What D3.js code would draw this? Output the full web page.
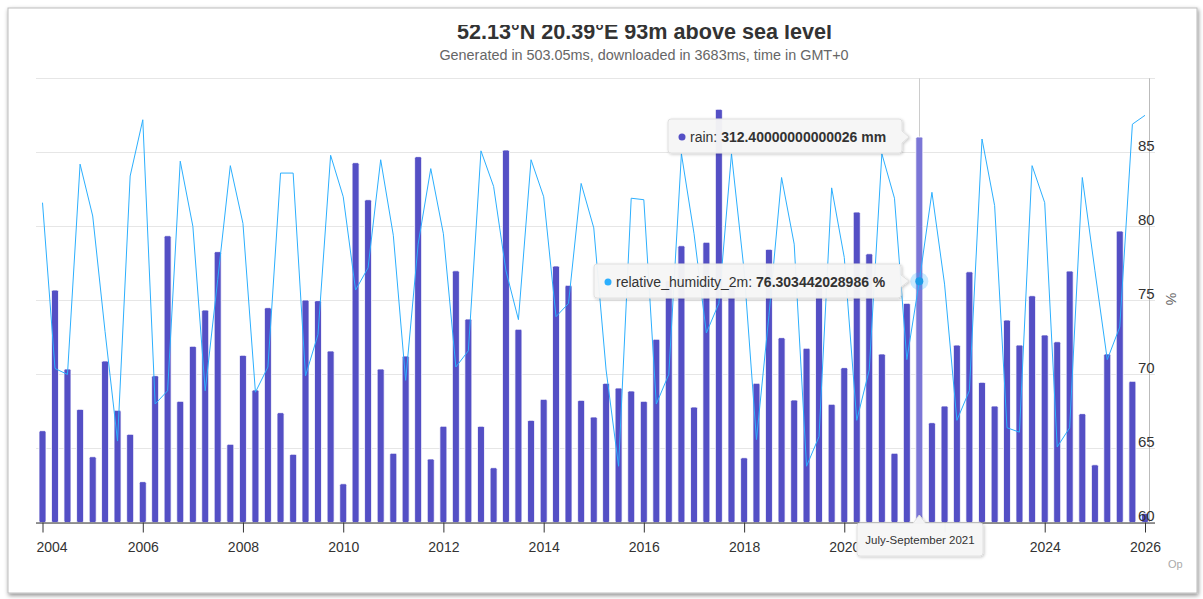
<!DOCTYPE html>
<html>
<head>
<meta charset="utf-8">
<script src="https://cdn.jsdelivr.net/npm/d3@7"></script>
<style>
  body { margin: 0; background: #fff; }
  svg { display: block; font-family: "Liberation Sans", Arial, Helvetica, sans-serif; }
</style>
</head>
<body>
<svg id="chart" width="1203" height="599"></svg>
<script>
/// data ///
// quarters start in 2004 Q1, one value per quarter
const firstYear = 2004;
const quarterNames = ["January-March", "April-June", "July-September", "October-December"];

// rain per quarter (mm)
const rain = [
  74.4, 188.4, 124.4, 91.7,     // 2004
  53.3, 130.9, 90.9, 71.5,      // 2005
  33.1, 119.0, 232.4, 98.2,     // 2006
  142.8, 172.2, 219.5, 63.4,    // 2007
  135.5, 107.4, 174.1, 89.0,    // 2008
  55.3, 180.3, 179.8, 139.0,    // 2009
  31.4, 291.6, 261.6, 124.4,    // 2010
  56.1, 134.9, 296.5, 51.5,     // 2011
  78.0, 204.0, 164.9, 78.0,     // 2012
  44.4, 301.9, 156.6, 82.8,     // 2013
  99.8, 207.9, 192.2, 99.0,     // 2014
  85.5, 112.8, 109.0, 106.6,    // 2015
  98.2, 148.5, 196.0, 224.3,    // 2016
  93.6, 227.1, 334.9, 192.5,    // 2017
  52.5, 112.8, 221.4, 149.8,    // 2018
  99.3, 141.2, 192.5, 95.8,     // 2019
  125.5, 251.6, 217.8, 136.6,   // 2020
  56.1, 177.6, 312.4, 80.9,     // 2021
  94.4, 143.8, 203.2, 113.6,    // 2022
  94.4, 164.1, 143.8, 183.8,    // 2023
  152.0, 146.5, 203.8, 88.2,    // 2024
  46.8, 136.6, 236.2, 114.4,    // 2025
  7.4                           // 2026
];

// relative humidity at 2m per quarter (%)
const humidity = [
  81.6, 70.4, 70.0, 84.2,
  80.7, 72.9, 65.5, 83.4,
  87.2, 68.0, 68.9, 84.4,
  80.0, 68.9, 76.4, 84.1,
  80.2, 68.8, 70.5, 83.6,
  83.6, 69.9, 72.7, 84.8,
  82.0, 75.7, 77.2, 84.5,
  79.4, 69.6, 78.8, 83.9,
  79.5, 70.5, 71.6, 85.1,
  82.7, 77.0, 73.7, 84.5,
  82.0, 73.9, 74.8, 82.9,
  79.9, 70.3, 63.8, 81.9,
  81.8, 68.0, 70.0, 84.9,
  79.5, 72.8, 74.8, 84.9,
  77.0, 65.6, 74.0, 83.3,
  78.8, 63.8, 65.8, 82.6,
  77.9, 66.9, 70.3, 84.9,
  81.9, 71.0, 76.3, 82.3,
  76.1, 66.9, 68.9, 85.9,
  81.4, 66.4, 66.1, 84.1,
  81.6, 65.1, 66.4, 83.3,
  77.0, 71.0, 73.2, 86.9,
  87.5
];

// axis ticks
const xTickYears = [2004, 2006, 2008, 2010, 2012, 2014, 2016, 2018, 2020, 2022, 2024, 2026];
const hiddenXLabels = [2022]; // covered by the x tooltip in the original
const humidityTicks = [60, 65, 70, 75, 80, 85];
const gridTicks = [60, 65, 70, 75, 80, 85, 90];

// hovered point (tooltip)
const hoverIndex = 70;
const rainTooltipValue = "312.40000000000026 mm";
const humidityTooltipValue = "76.303442028986 %";

// texts
const titleText = "52.13°N 20.39°E 93m above sea level";
const subtitleText = "Generated in 503.05ms, downloaded in 3683ms, time in GMT+0";

/// constants ///
const plot = { left: 36, right: 1149, top: 78.3, bottom: 522.5 };
const barColour = "#544fc5";
const barHoverColour = "#7b76d6";
const lineColour = "#2caffe";
const gridColour = "#e6e6e6";
const labelColour = "#333333";

const rows = rain.map((r, i) => ({
  date: new Date(Date.UTC(firstYear + Math.floor(i / 4), (i % 4) * 3, 1)),
  rain: r,
  humidity: humidity[i],
  quarter: quarterNames[i % 4] + " " + (firstYear + Math.floor(i / 4))
}));

const svg = d3.select("#chart");

/// frame ///
const defs = svg.append("defs");
const shadow = defs.append("filter").attr("id", "shadow")
  .attr("x", "-5%").attr("y", "-5%").attr("width", "110%").attr("height", "110%");
shadow.append("feDropShadow").attr("dx", 1).attr("dy", 2).attr("stdDeviation", 2)
  .attr("flood-color", "#000").attr("flood-opacity", 0.45);
const tipShadow = defs.append("filter").attr("id", "tipshadow")
  .attr("x", "-10%").attr("y", "-30%").attr("width", "120%").attr("height", "170%");
tipShadow.append("feDropShadow").attr("dx", 1).attr("dy", 1).attr("stdDeviation", 1.5)
  .attr("flood-color", "#000").attr("flood-opacity", 0.22);

svg.append("rect")
  .attr("x", 8).attr("y", 8).attr("width", 1189).attr("height", 585)
  .attr("fill", "#fff").attr("stroke", "#bdbdbd")
  .attr("filter", "url(#shadow)");

/// Scales ///
const x = d3.scaleUtc()
  .domain([new Date(Date.UTC(2004, 0, 1)), new Date(Date.UTC(2026, 0, 1))])
  .range([42.5, 1145]);
const yRain = d3.scaleLinear().domain([0, 360]).range([plot.bottom, plot.top]);
const yHum = d3.scaleLinear().domain([60, 90]).range([plot.bottom, plot.top]);

/// titles ///
// the top of the title is cut off in the original screenshot
defs.append("clipPath").attr("id", "titleclip")
  .append("rect").attr("x", 0).attr("y", 25).attr("width", 1203).attr("height", 30);
svg.append("text")
  .attr("x", 644.5).attr("y", 38.5)
  .attr("text-anchor", "middle")
  .attr("font-size", 21.6).attr("font-weight", "bold")
  .attr("fill", "#333")
  .attr("clip-path", "url(#titleclip)")
  .text(titleText);
svg.append("text")
  .attr("x", 644).attr("y", 59.5)
  .attr("text-anchor", "middle")
  .attr("font-size", 14.4)
  .attr("fill", "#666")
  .text(subtitleText);

/// grid ///
svg.append("g")
  .selectAll("line")
  .data(gridTicks)
  .join("line")
    .attr("x1", plot.left).attr("x2", 1155)
    .attr("y1", d => Math.round(yHum(d)) + 0.5).attr("y2", d => Math.round(yHum(d)) + 0.5)
    .attr("stroke", gridColour);

// crosshair at hovered quarter
const hoverX = x(rows[hoverIndex].date);
svg.append("line")
  .attr("x1", Math.round(hoverX) + 0.5).attr("x2", Math.round(hoverX) + 0.5)
  .attr("y1", plot.top).attr("y2", plot.bottom)
  .attr("stroke", "#cccccc");

/// bars ///
const barWidth = 7;
svg.append("g")
  .selectAll("rect")
  .data(rows)
  .join("rect")
    .attr("x", d => x(d.date) - barWidth / 2)
    .attr("y", d => yRain(d.rain))
    .attr("width", barWidth)
    .attr("height", d => plot.bottom - yRain(d.rain))
    .attr("rx", 1.5)
    .attr("fill", (d, i) => i === hoverIndex ? barHoverColour : barColour)
    .attr("stroke", "#fff")
    .attr("stroke-width", 0.8);

/// humidity line ///
const line = d3.line()
  .x(d => x(d.date))
  .y(d => yHum(d.humidity));
svg.append("path")
  .datum(rows)
  .attr("d", line)
  .attr("fill", "none")
  .attr("stroke", lineColour)
  .attr("stroke-width", 1)
  .attr("stroke-linejoin", "round");

// hover marker
const hp = rows[hoverIndex];
svg.append("circle")
  .attr("cx", x(hp.date)).attr("cy", yHum(hp.humidity)).attr("r", 9)
  .attr("fill", lineColour).attr("opacity", 0.25);
svg.append("circle")
  .attr("cx", x(hp.date)).attr("cy", yHum(hp.humidity)).attr("r", 4)
  .attr("fill", "#1e9be6");

/// Axes ///
// x axis
const xAxis = g => g
  .attr("transform", `translate(0, ${plot.bottom})`)
  .call(d3.axisBottom(x)
    .tickValues(xTickYears.map(yr => new Date(Date.UTC(yr, 0, 1))))
    .tickFormat(d => hiddenXLabels.includes(d.getUTCFullYear()) ? "" : d3.utcFormat("%Y")(d))
    .tickSize(10)
    .tickPadding(10))
  .call(g => g.select(".domain")
    .attr("d", `M${plot.left},0.5H1155`)
    .attr("stroke", "#333"))
  .call(g => g.selectAll(".tick line").attr("stroke", "#333"))
  .call(g => g.selectAll("text")
    .attr("font-size", 14)
    .attr("font-family", "Liberation Sans, Arial, sans-serif")
    .attr("fill", labelColour))
  // first label is kept inside the plot area
  .call(g => g.selectAll(".tick text").filter((d, i) => i === 0)
    .attr("text-anchor", "start")
    .attr("x", plot.left - x(new Date(Date.UTC(xTickYears[0], 0, 1)))));
svg.append("g").call(xAxis);

// right humidity axis
svg.append("line")
  .attr("x1", plot.right + 0.5).attr("x2", plot.right + 0.5)
  .attr("y1", plot.top).attr("y2", plot.bottom)
  .attr("stroke", "#bbbbbb");
svg.append("g")
  .selectAll("text")
  .data(humidityTicks)
  .join("text")
    .attr("x", 1138)
    .attr("y", d => yHum(d) - 1.5)
    .attr("font-size", 15)
    .attr("fill", labelColour)
    .text(d => d);
svg.append("text")
  .attr("transform", "translate(1166, 299) rotate(90)")
  .attr("text-anchor", "middle")
  .attr("font-size", 14)
  .attr("fill", "#666")
  .text("%");

svg.append("text")
  .attr("x", 1168).attr("y", 568)
  .attr("font-size", 11)
  .attr("fill", "#aaa")
  .text("Op");

/// tooltips ///
function calloutRight(x0, y0, w, h, tipX, tipY) {
  const r = 3;
  const x1 = x0 + w, y1 = y0 + h;
  return `M${x0 + r},${y0}H${x1 - r}Q${x1},${y0} ${x1},${y0 + r}` +
    `V${tipY - 6}L${tipX},${tipY}L${x1},${tipY + 6}` +
    `V${y1 - r}Q${x1},${y1} ${x1 - r},${y1}H${x0 + r}Q${x0},${y1} ${x0},${y1 - r}` +
    `V${y0 + r}Q${x0},${y0} ${x0 + r},${y0}Z`;
}
function calloutTop(x0, y0, w, h, tipX, tipY) {
  const r = 3;
  const x1 = x0 + w, y1 = y0 + h;
  return `M${x0 + r},${y0}H${tipX - 6}L${tipX},${tipY}L${tipX + 6},${y0}` +
    `H${x1 - r}Q${x1},${y0} ${x1},${y0 + r}V${y1 - r}Q${x1},${y1} ${x1 - r},${y1}` +
    `H${x0 + r}Q${x0},${y1} ${x0},${y1 - r}V${y0 + r}Q${x0},${y0} ${x0 + r},${y0}Z`;
}

function seriesTooltip(box, tip, colour, name, value) {
  const g = svg.append("g");
  g.append("path")
    .attr("d", calloutRight(box.x, box.y, box.w, box.h, tip.x, tip.y))
    .attr("fill", "#f7f7f7").attr("fill-opacity", 0.95)
    .attr("stroke", "#e0e0e0")
    .attr("filter", "url(#tipshadow)");
  g.append("circle")
    .attr("cx", box.x + 14).attr("cy", box.y + box.h / 2 + 1).attr("r", 3.5)
    .attr("fill", colour);
  const t = g.append("text")
    .attr("x", box.x + 22).attr("y", box.y + box.h / 2 + 5.5)
    .attr("font-size", 14).attr("fill", labelColour);
  t.append("tspan").text(name + ": ");
  t.append("tspan").attr("font-weight", "bold").text(value);
}

seriesTooltip({ x: 668, y: 119, w: 234, h: 34 }, { x: 909, y: 137 },
  barColour, "rain", rainTooltipValue);
seriesTooltip({ x: 594, y: 264, w: 307, h: 34 }, { x: 909, y: 281 },
  lineColour, "relative_humidity_2m", humidityTooltipValue);

// x axis tooltip
const dateTip = svg.append("g");
dateTip.append("path")
  .attr("d", calloutTop(857, 523, 126, 33, hoverX, 515))
  .attr("fill", "#f7f7f7").attr("fill-opacity", 0.97)
  .attr("stroke", "#e0e0e0")
  .attr("filter", "url(#tipshadow)");
dateTip.append("text")
  .attr("x", 920).attr("y", 544)
  .attr("text-anchor", "middle")
  .attr("font-size", 11.5)
  .attr("fill", labelColour)
  .text(rows[hoverIndex].quarter);
</script>
</body>
</html>
